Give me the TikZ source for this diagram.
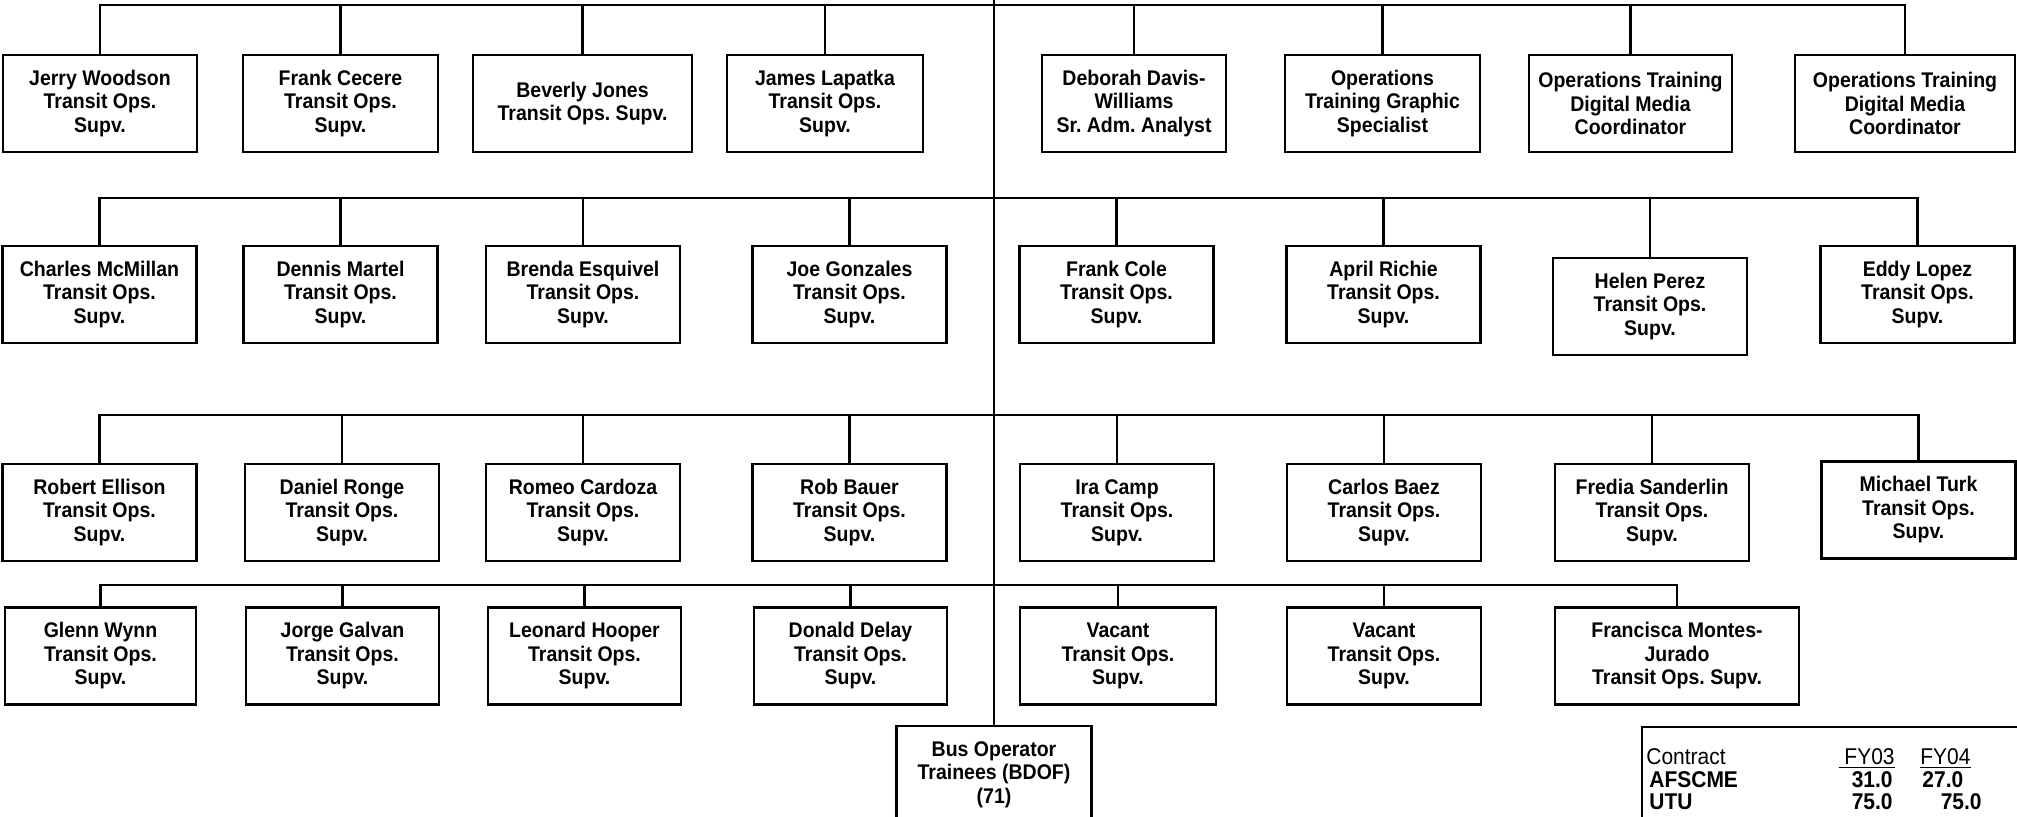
\documentclass[tikz,border=0pt]{standalone}
\usepackage{fontspec}
\setmainfont{Liberation Sans}[FakeStretch=0.92]
\frenchspacing
\usetikzlibrary{positioning}
\tikzset{
  staffbox/.style={draw, line width=1.3pt, minimum width=97pt,
    minimum height=48.5pt, inner sep=2pt, align=center,
    font=\fontsize{10.6}{11.75}\selectfont\bfseries},
  link/.style={line width=1.1pt, line cap=rect},
  tabtext/.style={inner sep=0pt, font=\fontsize{11.4}{12}\selectfont},
  tabbold/.style={tabtext, font=\fontsize{11.4}{12}\selectfont\bfseries},
}

\begin{document}
\begin{tikzpicture}[x=0.5pt,y=-0.5pt]
  \useasboundingbox (0,0) rectangle (2017,817);
  % Org chart: one trunk, four rows of supervisors
  \coordinate (top) at (994,0);
  \coordinate (bus1) at (0,5);
  \coordinate (bus2) at (0,198);
  \coordinate (bus3) at (0,415);
  \coordinate (bus4) at (0,585);
  \foreach \i/\x/\w/\lbl in {
    1/100/97pt/Jerry Woodson\\Transit Ops.\\Supv.,
    2/340.5/97.5pt/Frank Cecere\\Transit Ops.\\Supv.,
    3/582.5/109.5pt/Beverly Jones\\Transit Ops. Supv.,
    4/825/98pt/James Lapatka\\Transit Ops.\\Supv.,
    5/1134/92pt/Deborah Davis-\\Williams\\Sr. Adm. Analyst,
    6/1382.5/97.5pt/Operations\\Training Graphic\\Specialist,
    7/1630.5/101.5pt/Operations Training\\Digital Media\\Coordinator,
    8/1905/110pt/Operations Training\\Digital Media\\Coordinator
  }{
    \node[staffbox, minimum width=\w] (b1\i) at (\x,103.5) {\lbl};
  }
  \foreach \i/\x/\y/\lbl in {
    1/99.5/294.5/Charles McMillan,
    2/340.5/294.5/Dennis Martel,
    3/583/294.5/Brenda Esquivel,
    4/849.5/294.5/Joe Gonzales,
    5/1116.5/294.5/Frank Cole,
    6/1383.5/294.5/April Richie,
    7/1650/306.5/Helen Perez,
    8/1917.5/294.5/Eddy Lopez
  }{
    \node[staffbox] (b2\i) at (\x,\y) {\lbl\\Transit Ops.\\Supv.};
  }
  \foreach \i/\x/\y/\lbl in {
    1/99.5/512.5/Robert Ellison,
    2/342/512.5/Daniel Ronge,
    3/583/512.5/Romeo Cardoza,
    4/849.5/512.5/Rob Bauer,
    5/1117/512.5/Ira Camp,
    6/1384/512.5/Carlos Baez,
    7/1652/512.5/Fredia Sanderlin,
    8/1918.5/510/Michael Turk
  }{
    \node[staffbox] (b3\i) at (\x,\y) {\lbl\\Transit Ops.\\Supv.};
  }
  \foreach \i/\x/\w/\lbl in {
    1/100.5/95.5pt/Glenn Wynn\\Transit Ops.\\Supv.,
    2/342.5/96.5pt/Jorge Galvan\\Transit Ops.\\Supv.,
    3/584.5/96.5pt/Leonard Hooper\\Transit Ops.\\Supv.,
    4/850.5/96.5pt/Donald Delay\\Transit Ops.\\Supv.,
    5/1118/98pt/Vacant\\Transit Ops.\\Supv.,
    6/1384/97pt/Vacant\\Transit Ops.\\Supv.,
    7/1677/122pt/Francisca Montes-\\Jurado\\Transit Ops. Supv.
  }{
    \node[staffbox, minimum width=\w] (b4\i) at (\x,656) {\lbl};
  }
  \node[staffbox, minimum width=97.5pt] (bdof) at (994,774.5)
    {Bus Operator\\Trainees (BDOF)\\(71)};

  % connectors
  \draw[link] (top) -- (bdof.north);
  \foreach \r/\n in {1/8,2/8,3/8,4/7}{
    \draw[link] (b\r1.north |- bus\r) -- (b\r\n.north |- bus\r);
    \foreach \i in {1,...,\n}
      \draw[link] (b\r\i.north) -- (b\r\i.north |- bus\r);
  }

  % contract table
  \node[draw, line width=1.1pt, anchor=north west, minimum width=190pt,
        minimum height=50pt] (contract) at (1641,726) {};
  \node[tabtext, anchor=base west] (ctr) at (1646,764) {Contract};
  \node[tabtext, anchor=base east] (fy03) at (1895,764) {\underline{\ FY03}};
  \node[tabtext, anchor=base west] (fy04) at (1920,764) {\underline{FY04}};
  \node[tabbold, anchor=base west] (afs) at (1649,787) {AFSCME};
  \node[tabbold, anchor=base east] (afs03) at (1893,787) {31.0};
  \node[tabbold, anchor=base west] (afs04) at (1922,787) {27.0};
  \node[tabbold, anchor=base west] (utu) at (1649,809) {UTU};
  \node[tabbold, anchor=base east] (utu03) at (1893,809) {75.0};
  \node[tabbold, anchor=base east] (utu04) at (1982,809) {75.0};
\end{tikzpicture}
\end{document}
